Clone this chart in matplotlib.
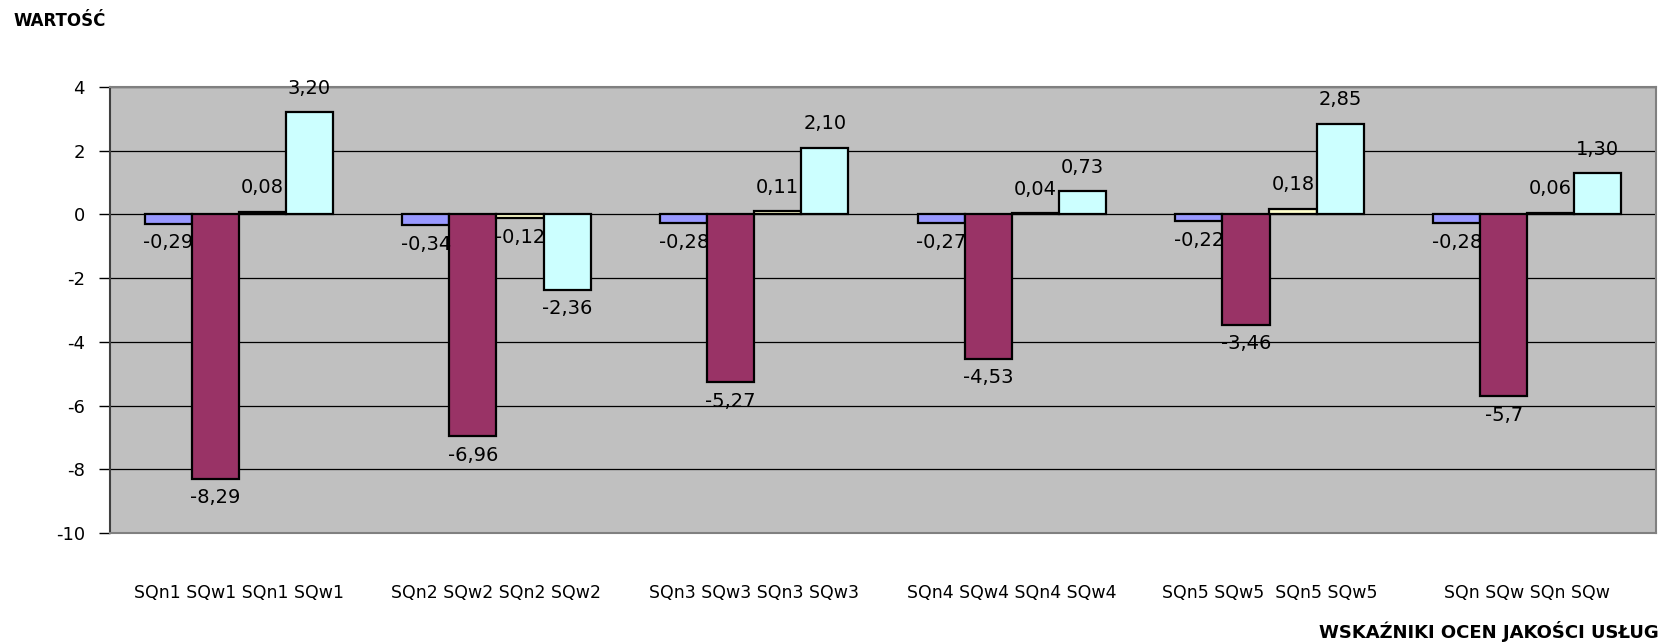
import numpy as np
import matplotlib
matplotlib.use("Agg")
import matplotlib.pyplot as plt

plt.rcParams['font.family'] = ['DejaVu Sans']
plt.rcParams['axes.unicode_minus'] = False

# data
categories = ['SQn1 SQw1 SQn1 SQw1', 'SQn2 SQw2 SQn2 SQw2', 'SQn3 SQw3 SQn3 SQw3',
              'SQn4 SQw4 SQn4 SQw4', 'SQn5 SQw5  SQn5 SQw5', 'SQn SQw SQn SQw']
s1 = [-0.29, -0.34, -0.28, -0.27, -0.22, -0.28]
s2 = [-8.29, -6.96, -5.27, -4.53, -3.46, -5.7]
s3 = [0.08, -0.12, 0.11, 0.04, 0.18, 0.06]
s4 = [3.20, -2.36, 2.10, 0.73, 2.85, 1.30]
s1_lbl = ['-0,29', '-0,34', '-0,28', '-0,27', '-0,22', '-0,28']
s2_lbl = ['-8,29', '-6,96', '-5,27', '-4,53', '-3,46', '-5,7']
s3_lbl = ['0,08', '-0,12', '0,11', '0,04', '0,18', '0,06']
s4_lbl = ['3,20', '-2,36', '2,10', '0,73', '2,85', '1,30']
yticks = [4, 2, 0, -2, -4, -6, -8, -10]

series = [s1, s2, s3, s4]
labels = [s1_lbl, s2_lbl, s3_lbl, s4_lbl]
colors = ['#9999FF', '#993366', '#FFFFCC', '#CCFFFF']

fig = plt.figure(figsize=(16.61, 6.42), dpi=100)
ax = fig.add_axes([110/1661, 1 - 533/642, 1546/1661, 446/642])
ax.set_facecolor('#C0C0C0')

x = np.arange(len(categories)) + 0.5
w = 0.1825
for k, (vals, lbls, c) in enumerate(zip(series, labels, colors)):
    pos = x + (k - 1.5) * w
    ax.bar(pos, vals, width=w, color=c, edgecolor='black', linewidth=1.6, zorder=3)
    for px, v, t in zip(pos, vals, lbls):
        off = 0.75 if v >= 0 else -0.6
        ax.text(px, v + off, t, ha='center', va='center', fontsize=14, zorder=4)

ax.set_xlim(0, 6)
ax.set_ylim(-10, 4)
ax.set_yticks(yticks)
ax.set_yticklabels([str(t) for t in yticks], fontsize=13)
ax.yaxis.grid(True, color='black', linewidth=0.9, zorder=0)
ax.set_axisbelow(True)
ax.set_xticks(x)
ax.set_xticklabels(categories, fontsize=12.5)
ax.tick_params(axis='x', length=0, pad=37)
ax.tick_params(axis='y', length=8, width=1, pad=10, direction='out')

for side in ['top', 'right', 'bottom']:
    ax.spines[side].set_color('#808080')
    ax.spines[side].set_linewidth(1.5)
ax.spines['left'].set_color('#404040')
ax.spines['left'].set_linewidth(1.5)

fig.text(13/1661, 1 - 21/642, 'WARTOŚĆ', fontsize=12, fontweight='bold', va='center', ha='left')
fig.text(1659/1661, 1 - 632/642, 'WSKAŹNIKI OCEN JAKOŚCI USŁUG', fontsize=13,
         fontweight='bold', va='center', ha='right')

fig.savefig('out.png', dpi=100)
